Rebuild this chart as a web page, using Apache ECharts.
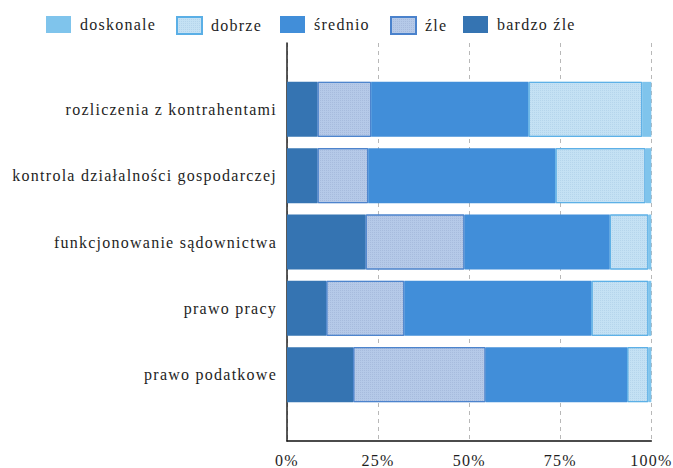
<!DOCTYPE html>
<html><head><meta charset="utf-8">
<script src="https://cdn.jsdelivr.net/npm/echarts@6/dist/echarts.min.js"></script>
<style>
html,body{margin:0;padding:0;background:#fff}
#c{width:673px;height:468px}
#c text{letter-spacing:1.25px}
</style></head><body><div id="c"></div>
<script>
// categories bottom -> top
const categories = ['prawo podatkowe', 'prawo pracy', 'funkcjonowanie sądownictwa', 'kontrola działalności gospodarczej', 'rozliczenia z kontrahentami'];
const bardzoZle = [18.2, 10.8, 21.6, 8.4, 8.4];
const zle       = [36.3, 21.4, 27.1, 13.9, 14.7];
const srednio   = [38.9, 51.4, 39.9, 51.4, 43.2];
const dobrze    = [5.8, 15.6, 10.6, 24.7, 31.2];
const doskonale = [0.8, 0.8, 0.8, 1.6, 2.5];
const seriesNames = ['bardzo źle', 'źle', 'średnio', 'dobrze', 'doskonale'];
const legendOrder = ['doskonale', 'dobrze', 'średnio', 'źle', 'bardzo źle'];

const FONT = 'Liberation Serif';
const TXT = '#1e1e1e';
// legend entry left offsets (layout)
const legendLeft = [46, 176, 280, 390, 463];

// padded category list: empty slot below and above
const yCats = [''].concat(categories, ['']);
const pad = arr => [null].concat(arr, [null]);

const seriesData = [bardzoZle, zle, srednio, dobrze, doskonale];
const styles = [
  {color: '#3574b2'},
  {color: '#b5c9e8', borderColor: '#4a82cc', borderWidth: 1,
   decal: {symbol: 'rect', symbolSize: 1, dashArrayX: [1, 1], dashArrayY: [1, 1], color: 'rgba(140,160,200,0.35)'}},
  {color: '#418ed9'},
  {color: '#c4e1f4', borderColor: '#5aafe6', borderWidth: 1,
   decal: {symbol: 'rect', symbolSize: 1, dashArrayX: [1, 1], dashArrayY: [1, 1], color: 'rgba(150,190,220,0.35)'}},
  {color: '#7fc4ec'}
];

const chart = echarts.init(document.getElementById('c'), null, {renderer: 'svg'});
chart.setOption({
  animation: false,
  backgroundColor: '#fff',
  textStyle: {fontFamily: FONT},
  legend: legendOrder.map((n, i) => ({
    left: legendLeft[i], top: 16, padding: 0,
    itemWidth: 25, itemHeight: 17,
    icon: 'rect',
    data: [n],
    textStyle: {fontFamily: FONT, fontSize: 16, color: TXT, padding: [0, 0, 0, 4]}
  })),
  grid: {left: 287, right: 20, top: 43, bottom: 26},
  xAxis: {
    type: 'value', min: 0, max: 100, interval: 25,
    axisLine: {show: true, lineStyle: {color: '#111', width: 1.5}},
    axisTick: {show: false},
    axisLabel: {formatter: '{value}%', fontFamily: FONT, fontSize: 16, color: TXT, margin: 11},
    splitLine: {show: true, lineStyle: {color: '#b8b8b8', type: [4, 4], width: 1}}
  },
  yAxis: {
    type: 'category', data: yCats, boundaryGap: false,
    axisLine: {show: true, lineStyle: {color: '#222', width: 1.5}},
    axisTick: {show: true, inside: true, length: 3, lineStyle: {color: '#111'},
      interval: (idx, val) => val !== ''},
    axisLabel: {fontFamily: FONT, fontSize: 16, color: TXT, margin: 10,
      interval: (idx, val) => val !== ''},
    splitLine: {show: false}
  },
  series: seriesNames.map((name, i) => ({
    name: name,
    type: 'bar',
    stack: 'total',
    barWidth: 55,
    data: pad(seriesData[i]),
    itemStyle: styles[i],
    emphasis: {disabled: true}
  }))
});
</script></body></html>
